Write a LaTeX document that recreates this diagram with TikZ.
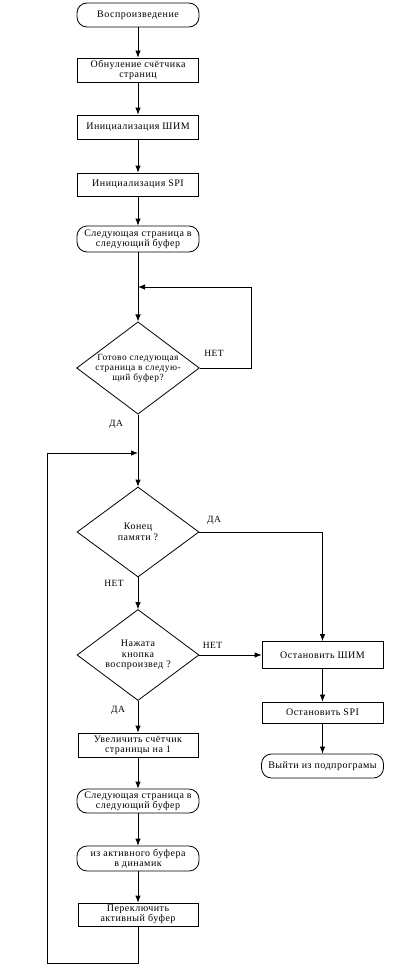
\documentclass[tikz,border=0pt]{standalone}
\usepackage{fontspec}
\setmainfont{Liberation Serif}[LetterSpace=5]
\usetikzlibrary{shapes.geometric,arrows.meta}
\begin{document}
\begin{tikzpicture}[x=1pt,y=-1pt,
  every node/.style={font=\fontsize{10}{10}\selectfont, align=center, inner sep=0pt},
  proc/.style={draw, rectangle, minimum width=121pt, minimum height=24pt, line width=0.8pt},
  term/.style={draw, rectangle, rounded corners=10pt, minimum width=122pt, minimum height=24pt, line width=0.8pt},
  dec/.style={draw, diamond, aspect=1.33, minimum width=122pt, minimum height=91pt, line width=0.8pt, font=\fontsize{10}{10.5}\selectfont},
  lbl/.style={font=\fontsize{9.5}{10}\selectfont},
  arr/.style={-{Latex[length=7pt,width=5.5pt]}, line width=0.8pt},
  ln/.style={line width=0.8pt}
]
\useasboundingbox (0,0) rectangle (410,974);
\fill[white] (0,0) rectangle (410,974);

\node[term] (start) at (138,15) {Воспроизведение};
\node[proc] (b1) at (138,70) {Обнуление счётчика\\страниц};
\node[proc] (b2) at (138,127) {Инициализация ШИМ};
\node[proc, minimum height=23pt] (b3) at (138,184.5) {Инициализация SPI};
\node[term, minimum height=26pt] (t2) at (138,239) {Следующая страница в\\следующий буфер};
\node[dec, minimum height=92pt, font=\fontsize{9.4}{10}\selectfont] (d1) at (138,368) {Готово следующая\\страница в следую-\\щий буфер?};
\node[dec, minimum height=90pt] (d2) at (138,532) {Конец\\памяти ?};
\node[dec] (d3) at (138,655) {Нажата\\кнопка\\воспроизвед ?};
\node[proc, minimum width=120pt] (b4) at (138,745) {Увеличить счётчик\\страницы на 1};
\node[term] (t4) at (138,801) {Следующая страница в\\следующий буфер};
\node[term, minimum height=25pt] (t5) at (138,858.5) {из активного буфера\\в динамик};
\node[proc, minimum width=120pt, minimum height=23pt] (b5) at (138,914.5) {Переключить\\активный буфер};

\node[proc, minimum height=27pt] (s1) at (322.5,655) {Остановить ШИМ};
\node[proc, minimum height=21pt] (s2) at (322.5,712.5) {Остановить SPI};
\node[term] (t3) at (322.5,766) {Выйти из подпрограмы};

\coordinate (j1) at (138,287);
\coordinate (r1) at (251,287);
\coordinate (j2) at (138,453);
\coordinate (bl) at (47,963);

\node[lbl] (n1) at (214,353) {НЕТ};
\node[lbl] (y1) at (116,424.5) {ДА};
\node[lbl] (y2) at (214,520) {ДА};
\node[lbl] (n2) at (114,583) {НЕТ};
\node[lbl] (n3) at (212.5,645.5) {НЕТ};
\node[lbl] (y3) at (118,710) {ДА};

\draw[arr] (start) -- (b1);
\draw[arr] (b1) -- (b2);
\draw[arr] (b2) -- (b3);
\draw[arr] (b3) -- (t2);
\draw[arr] (t2) -- (d1);
\draw[arr] (d1.east) -| (r1) -- (j1);
\draw[arr] (d1.south) -- (d2.north);
\draw[arr] (d2.east) -| (s1.north);
\draw[arr] (d2.south) -- (d3.north);
\draw[arr] (d3.east) -- (s1.west);
\draw[arr] (d3.south) -- (b4.north);
\draw[arr] (b4) -- (t4);
\draw[arr] (t4) -- (t5);
\draw[arr] (t5) -- (b5);
\draw[arr] (s1) -- (s2);
\draw[arr] (s2) -- (t3);
\draw[arr] (b5.south) |- (bl) |- (j2);
\end{tikzpicture}
\end{document}
